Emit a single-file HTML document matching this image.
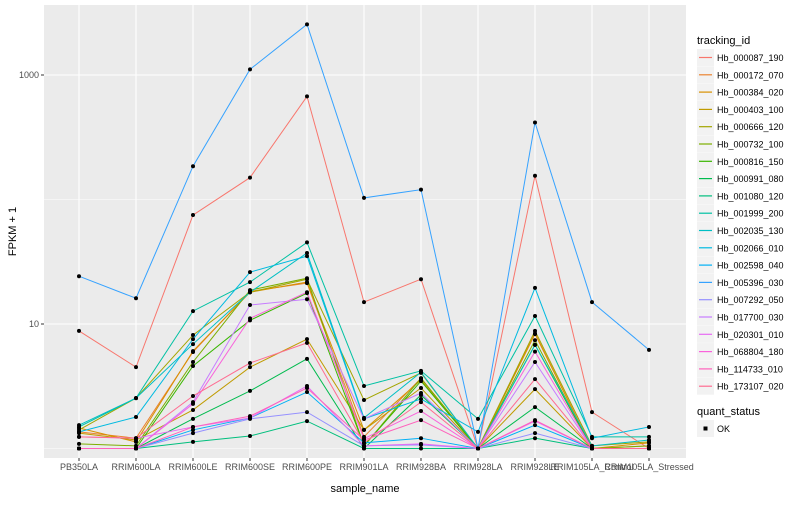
<!DOCTYPE html>
<html><head><meta charset="utf-8"><style>
body{margin:0;background:#fff;font-family:"Liberation Sans",sans-serif}
svg text{font-family:"Liberation Sans",sans-serif}
</style></head><body>
<svg id="chart" width="800" height="500" xmlns="http://www.w3.org/2000/svg"></svg>
<script>
const categories=["PB350LA","RRIM600LA","RRIM600LE","RRIM600SE","RRIM600PE","RRIM901LA","RRIM928BA","RRIM928LA","RRIM928LE","RRIM105LA_Control","RRIM105LA_Stressed"];
const seriesNames=["Hb_000087_190","Hb_000172_070","Hb_000384_020","Hb_000403_100","Hb_000666_120","Hb_000732_100","Hb_000816_150","Hb_000991_080","Hb_001080_120","Hb_001999_200","Hb_002035_130","Hb_002066_010","Hb_002598_040","Hb_005396_030","Hb_007292_050","Hb_017700_030","Hb_020301_010","Hb_068804_180","Hb_114733_010","Hb_173107_020"];
const colors=["#F8766D","#EA8331","#D89000","#C09B00","#A3A500","#7CAE00","#39B600","#00BB4E","#00BF7D","#00C1A3","#00BFC4","#00BAE0","#00B0F6","#35A2FF","#9590FF","#C77CFF","#E76BF3","#FA62DB","#FF62BC","#FF6C91"];
const s000087=[8.8,4.5,75,150,673,15,22.9,1.0,155,1.96,1.0];
const s000172=[1.36,1.21,5.96,18.3,21.3,1.24,3.67,1.0,8.3,1.0,1.05];
const s000384=[1.46,1.13,6.06,18.0,21.7,1.41,3.55,1.0,8.4,1.0,1.11];
const s000403=[1.33,1.17,2.04,4.5,7.56,1.41,3.06,1.0,3.0,1.0,1.0];
const s000666=[1.41,2.54,8.15,18.0,22.9,2.45,4.05,1.0,8.8,1.05,1.13];
const s000732=[1.09,1.05,4.95,18.7,23.3,1.05,3.67,1.0,7.4,1.0,1.05];
const s000816=[1.0,1.0,4.6,10.7,17.7,1.05,3.48,1.0,6.8,1.0,1.0];
const s000991=[1.0,1.0,1.73,2.9,5.25,1.0,2.69,1.0,2.15,1.0,1.0];
const s001080=[1.0,1.0,1.13,1.26,1.66,1.0,1.0,1.0,1.21,1.0,1.0];
const s001999=[1.49,2.54,12.7,21.7,45.2,3.18,4.2,1.73,11.6,1.24,1.24];
const s002035=[1.54,2.54,6.9,18.0,37.2,1.76,4.1,1.0,6.8,1.05,1.17];
const s002066=[1.36,1.79,7.56,26.1,35.1,1.73,2.5,1.36,19.5,1.21,1.49];
const s002598=[1.0,1.0,1.41,1.76,2.84,1.11,1.21,1.0,1.54,1.0,1.0];
const s005396=[24.2,16.1,185,1110,2550,103,120,1.0,415,15.0,6.2];
const s007292=[1.0,1.0,1.33,1.73,1.96,1.05,1.07,1.0,1.33,1.0,1.0];
const s017700=[1.0,1.0,2.36,14.2,15.8,1.73,2.79,1.0,4.95,1.0,1.0];
const s020301=[1.24,1.21,1.49,1.76,3.18,1.05,1.09,1.0,1.66,1.0,1.0];
const s068804=[1.0,1.0,2.28,11.1,18.0,1.2,2.0,1.0,6.0,1.0,1.0];
const s114733=[1.0,1.0,1.49,1.82,3.06,1.17,1.69,1.0,1.69,1.0,1.0];
const s173107=[1.24,1.21,2.64,4.86,7.05,1.11,2.36,1.0,3.61,1.0,1.0];
const seriesValues=[s000087,s000172,s000384,s000403,s000666,s000732,s000816,s000991,s001080,s001999,s002035,s002066,s002598,s005396,s007292,s017700,s020301,s068804,s114733,s173107];
const yTicks=[10,1000];
const yMinor=[1,100];

const NS="http://www.w3.org/2000/svg";
const svg=document.getElementById('chart');
function mk(tag,attrs,parent){const e=document.createElementNS(NS,tag);for(const k in attrs)e.setAttribute(k,attrs[k]);(parent||svg).appendChild(e);return e;}
const PL=44,PR=686,PT=5,PB=458;
const x=i=>79+i*57;
const y=v=>448.5-124.5*Math.log10(v);

const panel=mk('rect',{x:PL,y:PT,width:PR-PL,height:PB-PT,fill:'#EBEBEB'});


yMinor.forEach(v=>{const l=mk('line',{x1:PL,x2:PR,y1:y(v),y2:y(v),stroke:'#fff','stroke-width':0.6});

});
yTicks.forEach(v=>{const l=mk('line',{x1:PL,x2:PR,y1:y(v),y2:y(v),stroke:'#fff','stroke-width':1.1});


const tk=mk('line',{x1:PL-3,x2:PL,y1:y(v),y2:y(v),stroke:'#333','stroke-width':1});


const t=mk('text',{x:PL-5,y:y(v)+3,'text-anchor':'end','font-size':9,fill:'#4D4D4D'});t.textContent=v;

});
categories.forEach((c,i)=>{const l=mk('line',{x1:x(i),x2:x(i),y1:PT,y2:PB,stroke:'#fff','stroke-width':1.1});


const tk=mk('line',{x1:x(i),x2:x(i),y1:PB,y2:PB+3,stroke:'#333','stroke-width':1});


const t=mk('text',{x:x(i),y:PB+12,'text-anchor':'middle','font-size':9,fill:'#4D4D4D'});t.textContent=c;

});

seriesValues.forEach((vals,si)=>{
const p=mk('polyline',{points:vals.map((v,i)=>x(i)+','+y(v)).join(' '),fill:'none',stroke:colors[si],'stroke-width':1});

});
seriesValues.forEach((vals,si)=>{vals.forEach((v,i)=>{
const c=mk('circle',{cx:x(i),cy:y(v),r:2,fill:'#000'});

});});

const xt=mk('text',{x:(PL+PR)/2,y:492,'text-anchor':'middle','font-size':11,fill:'#000'});xt.textContent='sample_name';


const yt=mk('text',{x:0,y:0,transform:'translate(16,'+((PT+PB)/2)+') rotate(-90)','text-anchor':'middle','font-size':11,fill:'#000'});yt.textContent='FPKM + 1';



const lt=mk('text',{x:697,y:44,'font-size':11,fill:'#000'});lt.textContent='tracking_id';


seriesNames.forEach((n,i)=>{const ky=49+i*17.3;
const g=mk('g',{});


mk('rect',{x:697,y:ky,width:17,height:17,fill:'#F2F2F2'},g);
mk('line',{x1:699,x2:712,y1:ky+8.5,y2:ky+8.5,stroke:colors[i],'stroke-width':1.2},g);
const t=mk('text',{x:717,y:ky+12,'font-size':9,fill:'#000'},g);t.textContent=n;});
const qt=mk('text',{x:697,y:415,'font-size':11,fill:'#000'});qt.textContent='quant_status';


const qg=mk('g',{});


mk('rect',{x:697,y:420,width:17,height:17,fill:'#F2F2F2'},qg);
mk('rect',{x:703.5,y:426.5,width:4,height:4,fill:'#000'},qg);
const ok=mk('text',{x:717,y:432,'font-size':9,fill:'#000'},qg);ok.textContent='OK';
</script>
</body></html>
